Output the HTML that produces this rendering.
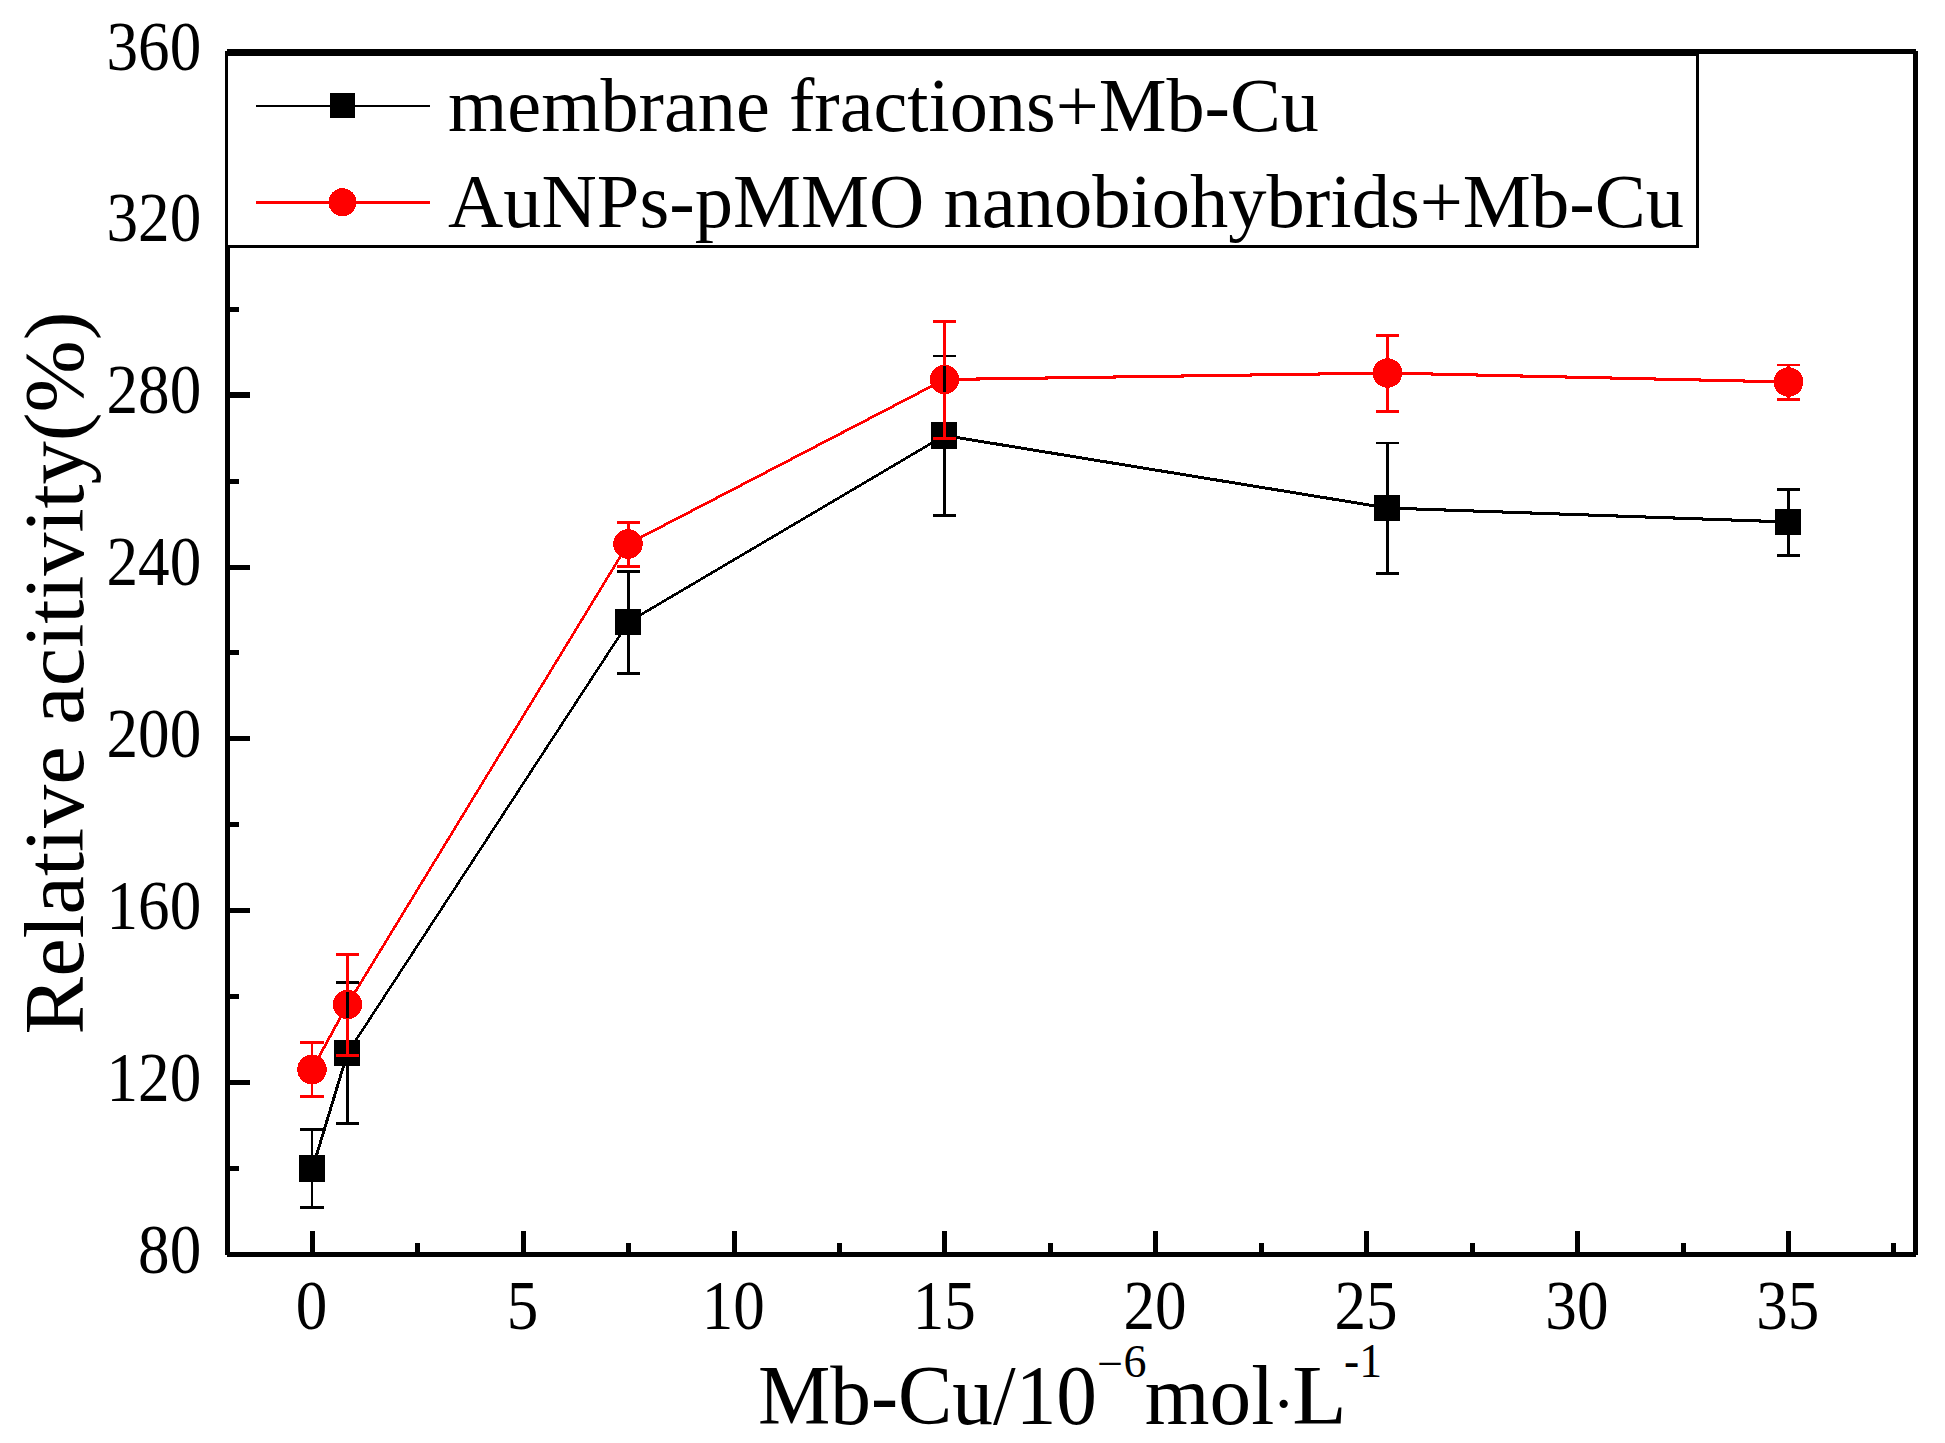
<!DOCTYPE html>
<html lang="en"><head><meta charset="utf-8"><title>Relative activity vs Mb-Cu</title>
<style>html,body{margin:0;padding:0;background:#fff}svg{display:block}text{font-family:"Liberation Serif","Times New Roman",serif;fill:#000}.tk{font-size:68.8px}.lg{font-size:76px}.tt{font-size:84px}</style></head><body>
<svg width="1945" height="1443" viewBox="0 0 1945 1443">
<rect x="0" y="0" width="1945" height="1443" fill="#fff"/>
<g shape-rendering="crispEdges">
<rect x="225" y="51" width="5" height="1204" fill="#000"/>
<rect x="1913" y="51" width="5" height="1204" fill="#000"/>
<rect x="227" y="49" width="1689" height="5" fill="#000"/>
<rect x="227" y="1252" width="1689" height="5" fill="#000"/>
<rect x="228" y="1166" width="11" height="5" fill="#000"/>
<rect x="228" y="1080" width="22" height="5" fill="#000"/>
<rect x="228" y="994" width="11" height="5" fill="#000"/>
<rect x="228" y="908" width="22" height="5" fill="#000"/>
<rect x="228" y="822" width="11" height="5" fill="#000"/>
<rect x="228" y="736" width="22" height="5" fill="#000"/>
<rect x="228" y="650" width="11" height="5" fill="#000"/>
<rect x="228" y="565" width="22" height="5" fill="#000"/>
<rect x="228" y="479" width="11" height="5" fill="#000"/>
<rect x="228" y="392" width="22" height="6" fill="#000"/>
<rect x="228" y="307" width="11" height="5" fill="#000"/>
<rect x="228" y="221" width="22" height="5" fill="#000"/>
<rect x="228" y="135" width="11" height="5" fill="#000"/>
<rect x="310" y="1231" width="5" height="23" fill="#000"/>
<rect x="415" y="1243" width="5" height="11" fill="#000"/>
<rect x="521" y="1231" width="5" height="23" fill="#000"/>
<rect x="626" y="1243" width="5" height="11" fill="#000"/>
<rect x="732" y="1231" width="5" height="23" fill="#000"/>
<rect x="837" y="1243" width="5" height="11" fill="#000"/>
<rect x="942" y="1231" width="5" height="23" fill="#000"/>
<rect x="1048" y="1243" width="5" height="11" fill="#000"/>
<rect x="1153" y="1231" width="5" height="23" fill="#000"/>
<rect x="1259" y="1243" width="5" height="11" fill="#000"/>
<rect x="1364" y="1231" width="5" height="23" fill="#000"/>
<rect x="1470" y="1243" width="5" height="11" fill="#000"/>
<rect x="1575" y="1231" width="5" height="23" fill="#000"/>
<rect x="1681" y="1243" width="5" height="11" fill="#000"/>
<rect x="1786" y="1231" width="5" height="23" fill="#000"/>
<rect x="1891" y="1243" width="5" height="11" fill="#000"/>
</g>
<g shape-rendering="crispEdges">
<line x1="312.5" y1="1168.5" x2="347.5" y2="1053" stroke="#000" stroke-width="2.91"/>
<line x1="347.5" y1="1053" x2="628.5" y2="622" stroke="#000" stroke-width="2.55"/>
<line x1="628.5" y1="622" x2="944.5" y2="435.5" stroke="#000" stroke-width="2.62"/>
<line x1="944.5" y1="435.5" x2="1387.5" y2="508" stroke="#000" stroke-width="3.00"/>
<line x1="1387.5" y1="508" x2="1788.5" y2="522" stroke="#000" stroke-width="3.04"/>
<rect x="299" y="1155" width="26" height="27" rx="1" fill="#000"/>
<rect x="334" y="1040" width="26" height="26" rx="1" fill="#000"/>
<rect x="615" y="609" width="26" height="26" rx="1" fill="#000"/>
<rect x="931" y="422" width="26" height="27" rx="1" fill="#000"/>
<rect x="1374" y="495" width="26" height="26" rx="1" fill="#000"/>
<rect x="1775" y="509" width="26" height="26" rx="1" fill="#000"/>
<line x1="312" y1="1069.5" x2="347.5" y2="1004.5" stroke="#f00" stroke-width="2.67"/>
<line x1="347.5" y1="1004.5" x2="628" y2="544" stroke="#f00" stroke-width="2.60"/>
<line x1="628" y1="544" x2="944.5" y2="379.5" stroke="#f00" stroke-width="2.70"/>
<line x1="944.5" y1="379.5" x2="1387.5" y2="373" stroke="#f00" stroke-width="3.04"/>
<line x1="1387.5" y1="373" x2="1788.5" y2="382" stroke="#f00" stroke-width="3.04"/>
<circle cx="312" cy="1069.5" r="14.75" fill="#f00"/>
<circle cx="347.5" cy="1004.5" r="14.75" fill="#f00"/>
<circle cx="628" cy="544" r="14.75" fill="#f00"/>
<circle cx="944.5" cy="379.5" r="14.75" fill="#f00"/>
<circle cx="1387.5" cy="373" r="14.75" fill="#f00"/>
<circle cx="1788.5" cy="382" r="14.75" fill="#f00"/>
<rect x="311" y="1128" width="2" height="27" fill="#000"/>
<rect x="311" y="1182" width="2" height="27" fill="#000"/>
<rect x="300" y="1128" width="24" height="3" fill="#000"/>
<rect x="300" y="1206" width="24" height="3" fill="#000"/>
<rect x="346" y="981" width="3" height="59" fill="#000"/>
<rect x="346" y="1066" width="3" height="59" fill="#000"/>
<rect x="336" y="981" width="23" height="3" fill="#000"/>
<rect x="336" y="1122" width="23" height="3" fill="#000"/>
<rect x="627" y="570" width="3" height="39" fill="#000"/>
<rect x="627" y="635" width="3" height="40" fill="#000"/>
<rect x="617" y="570" width="23" height="3" fill="#000"/>
<rect x="617" y="672" width="23" height="3" fill="#000"/>
<rect x="943" y="355" width="3" height="67" fill="#000"/>
<rect x="943" y="449" width="3" height="68" fill="#000"/>
<rect x="933" y="355" width="23" height="2" fill="#000"/>
<rect x="933" y="514" width="23" height="3" fill="#000"/>
<rect x="1386" y="442" width="3" height="53" fill="#000"/>
<rect x="1386" y="521" width="3" height="54" fill="#000"/>
<rect x="1376" y="442" width="23" height="2" fill="#000"/>
<rect x="1376" y="572" width="23" height="3" fill="#000"/>
<rect x="1787" y="488" width="3" height="21" fill="#000"/>
<rect x="1787" y="535" width="3" height="22" fill="#000"/>
<rect x="1777" y="488" width="23" height="3" fill="#000"/>
<rect x="1777" y="554" width="23" height="3" fill="#000"/>
<rect x="311" y="1041" width="2" height="15" fill="#f00"/>
<rect x="311" y="1082" width="2" height="16" fill="#f00"/>
<rect x="300" y="1041" width="24" height="3" fill="#f00"/>
<rect x="300" y="1095" width="24" height="3" fill="#f00"/>
<rect x="346" y="953" width="3" height="39" fill="#f00"/>
<rect x="346" y="1018" width="3" height="39" fill="#f00"/>
<rect x="336" y="953" width="23" height="3" fill="#f00"/>
<rect x="336" y="1054" width="23" height="3" fill="#f00"/>
<rect x="627" y="521" width="3" height="10" fill="#f00"/>
<rect x="627" y="557" width="3" height="11" fill="#f00"/>
<rect x="617" y="521" width="23" height="3" fill="#f00"/>
<rect x="617" y="565" width="23" height="3" fill="#f00"/>
<rect x="943" y="320" width="3" height="46" fill="#f00"/>
<rect x="943" y="392" width="3" height="48" fill="#f00"/>
<rect x="933" y="320" width="23" height="3" fill="#f00"/>
<rect x="933" y="437" width="23" height="3" fill="#f00"/>
<rect x="1386" y="334" width="3" height="26" fill="#f00"/>
<rect x="1386" y="386" width="3" height="27" fill="#f00"/>
<rect x="1376" y="334" width="23" height="3" fill="#f00"/>
<rect x="1376" y="410" width="23" height="3" fill="#f00"/>
<rect x="1787" y="364" width="3" height="5" fill="#f00"/>
<rect x="1787" y="395" width="3" height="6" fill="#f00"/>
<rect x="1777" y="364" width="23" height="2" fill="#f00"/>
<rect x="1777" y="398" width="23" height="3" fill="#f00"/>
</g>
<g shape-rendering="crispEdges">
<rect x="226.5" y="54.5" width="1471" height="192" fill="#fff" stroke="#000" stroke-width="3"/>
<rect x="256" y="105" width="174" height="2" fill="#000"/>
<rect x="330" y="93" width="25" height="25" fill="#000"/>
<rect x="256" y="201" width="174" height="3" fill="#f00"/>
<circle cx="342.5" cy="202.2" r="14" fill="#f00"/>
</g>
<text class="lg" x="448" y="130.5" textLength="871" lengthAdjust="spacingAndGlyphs">membrane fractions+Mb-Cu</text>
<text class="lg" x="448" y="227.3" textLength="1236" lengthAdjust="spacingAndGlyphs">AuNPs-pMMO nanobiohybrids+Mb-Cu</text>
<text class="tk" transform="translate(201.2 1272.5) scale(0.917 1)" text-anchor="end">80</text>
<text class="tk" transform="translate(201.2 1100.6) scale(0.917 1)" text-anchor="end">120</text>
<text class="tk" transform="translate(201.2 928.8) scale(0.917 1)" text-anchor="end">160</text>
<text class="tk" transform="translate(201.2 756.9) scale(0.917 1)" text-anchor="end">200</text>
<text class="tk" transform="translate(201.2 585.1) scale(0.917 1)" text-anchor="end">240</text>
<text class="tk" transform="translate(201.2 413.2) scale(0.917 1)" text-anchor="end">280</text>
<text class="tk" transform="translate(201.2 241.4) scale(0.917 1)" text-anchor="end">320</text>
<text class="tk" transform="translate(201.2 69.5) scale(0.917 1)" text-anchor="end">360</text>
<text class="tk" transform="translate(311.5 1329) scale(0.917 1)" text-anchor="middle">0</text>
<text class="tk" transform="translate(522.4 1329) scale(0.917 1)" text-anchor="middle">5</text>
<text class="tk" transform="translate(733.3 1329) scale(0.917 1)" text-anchor="middle">10</text>
<text class="tk" transform="translate(944.2 1329) scale(0.917 1)" text-anchor="middle">15</text>
<text class="tk" transform="translate(1155.1 1329) scale(0.917 1)" text-anchor="middle">20</text>
<text class="tk" transform="translate(1366.0 1329) scale(0.917 1)" text-anchor="middle">25</text>
<text class="tk" transform="translate(1576.9 1329) scale(0.917 1)" text-anchor="middle">30</text>
<text class="tk" transform="translate(1787.8 1329) scale(0.917 1)" text-anchor="middle">35</text>
<text class="tt" transform="translate(83 1034.5) rotate(-90)" textLength="723" lengthAdjust="spacingAndGlyphs">Relative acitivity(%)</text>
<text class="tt" x="758" y="1423.8" textLength="339" lengthAdjust="spacingAndGlyphs">Mb-Cu/10</text>
<text x="1097.3" y="1379" font-size="46">−</text>
<text x="1123.4" y="1377" font-size="46">6</text>
<text class="tt" x="1144.8" y="1423.8" textLength="129.5" lengthAdjust="spacingAndGlyphs">mol</text>
<text x="1271.9" y="1427.4" font-size="70">·</text>
<text class="tt" x="1292.3" y="1423.8" textLength="54.5" lengthAdjust="spacingAndGlyphs">L</text>
<text x="1344" y="1377" font-size="49" textLength="38" lengthAdjust="spacingAndGlyphs">-1</text>
</svg></body></html>
